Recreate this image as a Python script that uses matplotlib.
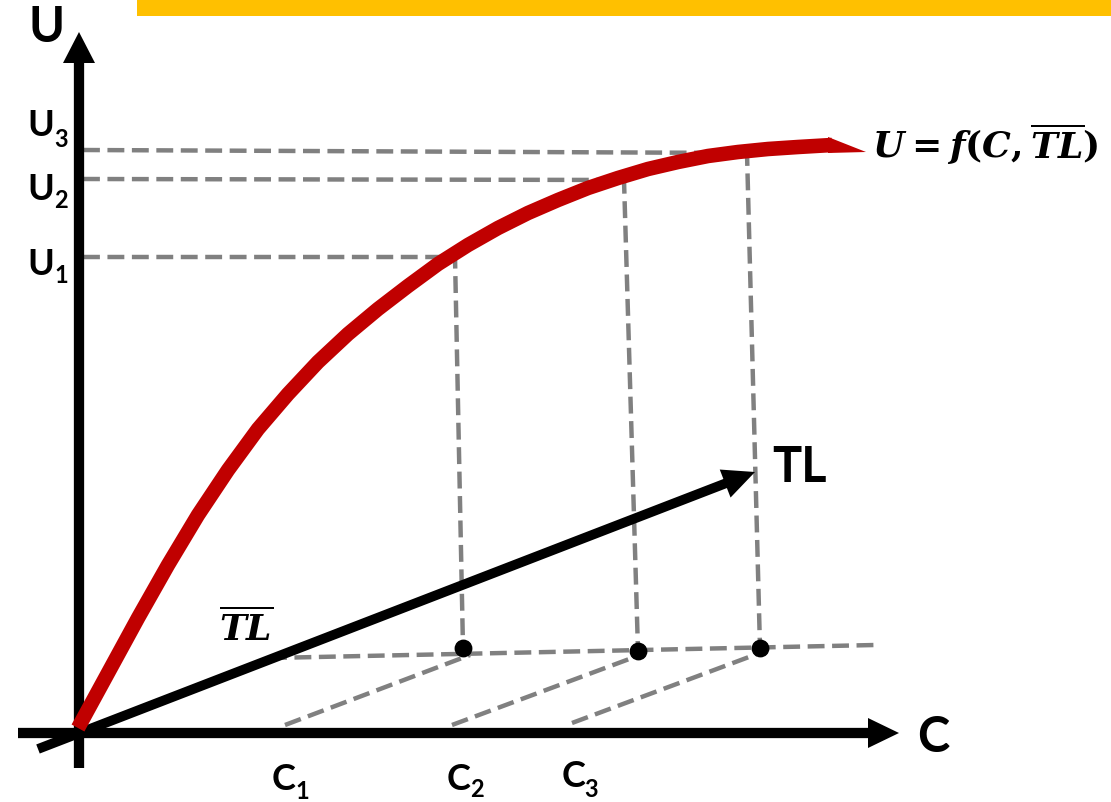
import numpy as np
import matplotlib
matplotlib.use("Agg")
from matplotlib import pyplot as plt

plt.rcParams['font.family'] = ['Lato', 'DejaVu Sans']
plt.rcParams['mathtext.fontset'] = 'custom'
plt.rcParams['mathtext.it'] = 'DejaVu Serif:bold:italic'
plt.rcParams['mathtext.rm'] = 'DejaVu Serif:bold'
plt.rcParams['mathtext.bf'] = 'DejaVu Serif:bold'

# 图中所有坐标按像素给出 (x 向右, y 向下)
# 效用曲线 U = f(C, TL)
curve_x = [78, 108, 138, 168, 198, 228, 258, 288, 318, 348, 378, 408, 438,
           468, 498, 528, 558, 588, 618, 648, 678, 708, 738, 768, 798, 832]
curve_y = [728, 673, 618, 565, 515, 470, 429, 394, 362, 334, 309, 286, 264,
           245, 228, 213, 200, 188, 178, 169, 162, 156, 152, 149, 147, 145]
curve_tip = [(828, 137), (866, 152), (828, 153)]

# U1, U2, U3 水平虚线: 起点 x, 起点 y, 终点 x, 终点 y
u_names = ["1", "2", "3"]
u_lines = [(83, 257, 455, 257), (83, 179, 624, 180), (83, 150, 747, 153)]
# 竖直虚线终点(黑点)
dots_x = [463, 638, 760]
dots_y = [648, 651, 648]
# C1, C2, C3 斜虚线
c_lines = [(285, 725, 470, 655), (452, 725, 640, 655), (572, 723, 757, 654)]
tl_bar_line = (270, 658, 875, 645)

# 坐标轴和 TL 箭头: 起点, 终点
axis_u = ((79, 768), (79, 32))
axis_c = ((18, 733), (899, 733))
arrow_tl = ((38, 749), (755, 472))

# 标签位置
u_label_pos = [(27, 275), (27, 200), (27, 136)]
u_sub_pos = [(54, 283), (54, 208), (54, 147)]
c_label_pos = [(272, 790), (447, 790), (562, 787)]
c_sub_pos = [(295, 799), (470, 797), (584, 797)]

red = "#C00000"
gray = "#808080"

fig = plt.figure(figsize=(11.11, 8.02), dpi=100)
ax = fig.add_axes([0, 0, 1, 1])
ax.set_xlim(0, 1111)
ax.set_ylim(802, 0)
ax.axis("off")

# 顶部黄色条
ax.fill([137, 1111, 1111, 137], [0, 0, 16, 16], color="#FFC000", lw=0)


def arrow(start, tip, lw, head_len, head_half, color="black", z=3):
    s = np.array(start, float)
    t = np.array(tip, float)
    u = (t - s) / np.linalg.norm(t - s)
    n = np.array([-u[1], u[0]])
    base = t - head_len * u
    ax.plot([s[0], base[0] + u[0] * 2], [s[1], base[1] + u[1] * 2],
            color=color, lw=lw, solid_capstyle="butt", zorder=z)
    head = np.array([t, base + head_half * n, base - head_half * n])
    ax.fill(head[:, 0], head[:, 1], color=color, lw=0, zorder=z)


dash = dict(color=gray, lw=3.2, dashes=(3.8, 1.7), zorder=2)

# 虚线
for (x0, y0, x1, y1), dx, dy in zip(u_lines, dots_x, dots_y):
    ax.plot([x0, x1, dx], [y0, y1, dy], **dash)
ax.plot(tl_bar_line[0::2], tl_bar_line[1::2], **dash)
for x0, y0, x1, y1 in c_lines:
    ax.plot([x0, x1], [y0, y1], **dash)

# 坐标轴
arrow(*axis_u, lw=7.4, head_len=31, head_half=16)
arrow(*axis_c, lw=7.4, head_len=31, head_half=15)
# TL 箭头
arrow(*arrow_tl, lw=7, head_len=32, head_half=15, z=4)

# 效用曲线
ax.plot(curve_x, curve_y, color=red, lw=10.5, solid_capstyle="butt",
        solid_joinstyle="round", zorder=5)
tip = np.array(curve_tip)
ax.fill(tip[:, 0], tip[:, 1], color=red, lw=0, zorder=5)

ax.scatter(dots_x, dots_y, s=140, color="black", zorder=6)

# 文字
big = dict(fontsize=35, fontweight="bold", va="baseline", ha="left")
ax.text(28, 42, "U", **big)
ax.text(917, 752, "C", **big)
ax.text(772, 482, "TL", **big)

for name, (x, y), (sx, sy) in zip(u_names, u_label_pos, u_sub_pos):
    ax.text(x, y, "U", fontsize=26, fontweight="bold", va="baseline")
    ax.text(sx, sy, name, fontsize=17, fontweight="bold", va="baseline")
for name, (x, y), (sx, sy) in zip(u_names, c_label_pos, c_sub_pos):
    ax.text(x, y, "C", fontsize=26, fontweight="bold", va="baseline")
    ax.text(sx, sy, name, fontsize=17, fontweight="bold", va="baseline")

ax.text(872, 158, r"$U=f(C,\overline{TL})$", fontsize=26, va="baseline")
ax.text(219, 641, r"$\overline{TL}$", fontsize=26, va="baseline")

fig.savefig("out.png", dpi=100)
